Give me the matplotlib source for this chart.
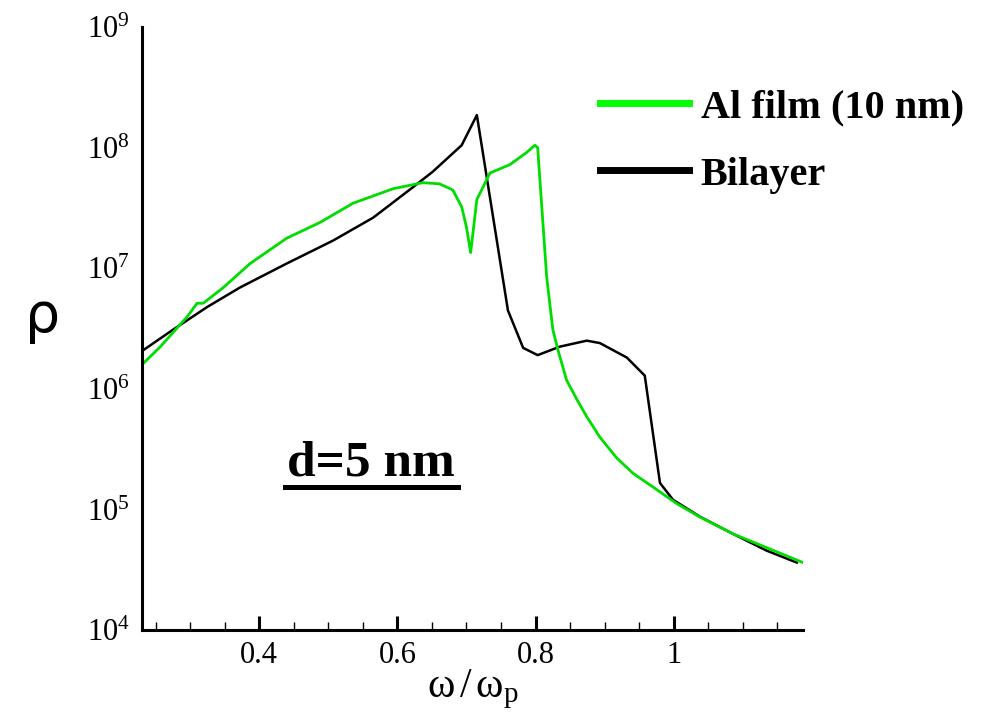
import matplotlib
matplotlib.use('Agg')
import matplotlib.pyplot as plt
from matplotlib.lines import Line2D
from matplotlib.ticker import MultipleLocator, LogLocator, NullLocator
import numpy as np

plt.rcParams['font.family'] = ['Liberation Serif', 'DejaVu Serif']
plt.rcParams['mathtext.fontset'] = 'custom'
plt.rcParams['mathtext.rm'] = 'Liberation Serif'
plt.rcParams['mathtext.it'] = 'Liberation Serif:italic'
plt.rcParams['mathtext.bf'] = 'Liberation Serif:bold'

# Bilayer (black), omega/omega_p vs log10(rho)
bilayer_w = [0.232, 0.275, 0.325, 0.372, 0.440, 0.507, 0.565, 0.622, 0.651,
             0.693, 0.715, 0.760, 0.782, 0.803, 0.835, 0.874, 0.893, 0.932,
             0.958, 0.980, 0.999, 1.038, 1.085, 1.134, 1.178]
bilayer_log = [6.32, 6.49, 6.68, 6.84, 7.04, 7.23, 7.42, 7.67, 7.80,
               8.02, 8.27, 6.65, 6.34, 6.28, 6.35, 6.40, 6.38, 6.26,
               6.11, 5.22, 5.08, 4.94, 4.80, 4.66, 4.56]

# Al film 10 nm (green)
film_w = [0.232, 0.257, 0.296, 0.310, 0.319, 0.348, 0.387, 0.440, 0.488,
          0.536, 0.594, 0.637, 0.661, 0.680, 0.693, 0.700, 0.706, 0.715,
          0.734, 0.763, 0.787, 0.799, 0.803, 0.816, 0.825, 0.832, 0.845,
          0.860, 0.874, 0.893, 0.917, 0.941, 0.969, 1.004, 1.037, 1.085,
          1.187]
film_log = [6.21, 6.35, 6.60, 6.71, 6.71, 6.84, 7.04, 7.25, 7.38,
            7.54, 7.66, 7.71, 7.70, 7.65, 7.51, 7.34, 7.13, 7.57,
            7.79, 7.86, 7.96, 8.02, 8.00, 6.93, 6.49, 6.33, 6.07,
            5.91, 5.77, 5.60, 5.43, 5.30, 5.19, 5.05, 4.94, 4.80,
            4.56]

labels = ['Al film (10 nm)', 'Bilayer']
green = '#00dd00'

fig = plt.figure(figsize=(10.03, 7.12), dpi=100)
ax = fig.add_axes([0.142, 0.115, 0.6586, 0.847])

ax.plot(bilayer_w, 10 ** np.array(bilayer_log), color='k', lw=1.8)
ax.plot(film_w, 10 ** np.array(film_log), color=green, lw=2.0)

ax.set_yscale('log')
ax.set_xlim(0.231, 1.187)
ax.set_ylim(1e4, 1e9)
ax.xaxis.set_minor_locator(MultipleLocator(0.05))
ax.set_xticks([0.4, 0.6, 0.8, 1.0], labels=['0.4', '0.6', '0.8', '1'])
ax.yaxis.set_major_locator(LogLocator(base=10, numticks=10))
ax.yaxis.set_minor_locator(NullLocator())

for s in ['top', 'right']:
    ax.spines[s].set_visible(False)
for s in ['left', 'bottom']:
    ax.spines[s].set_linewidth(2.2)

ax.tick_params(axis='x', which='major', direction='in', length=10, width=2.2,
               labelsize=22, pad=8)
ax.tick_params(axis='x', which='minor', direction='in', length=6, width=1.0)
ax.tick_params(axis='y', which='both', length=0, labelsize=22, pad=9)

ax.set_xlabel(r'$\mathrm{ω\,/\,ω_p}$', fontsize=30, labelpad=-2)
fig.text(0.042, 0.555, 'ρ', fontsize=40, family='DejaVu Sans',
         ha='center', va='center')

# d = 5 nm, underlined
ax.text(0.346, 0.257, 'd=5 nm', transform=ax.transAxes,
        fontsize=37, fontweight='bold', ha='center', va='baseline')
ax.add_line(Line2D([0.216, 0.478], [0.237, 0.237], color='k', lw=3.6,
                   transform=ax.transAxes, clip_on=False))

handles = [Line2D([], [], color='#00ff00', lw=5),
           Line2D([], [], color='k', lw=5)]
ax.legend(handles, labels, loc='upper left',
          bbox_to_anchor=(600 / 1003, 1 - 89 / 712),
          bbox_transform=fig.transFigure, frameon=False,
          prop={'family': 'Liberation Serif', 'weight': 'bold', 'size': 29},
          handlelength=2.2, handletextpad=0.3, labelspacing=0.75,
          borderpad=0, borderaxespad=0)

fig.savefig('out.png', dpi=100)
